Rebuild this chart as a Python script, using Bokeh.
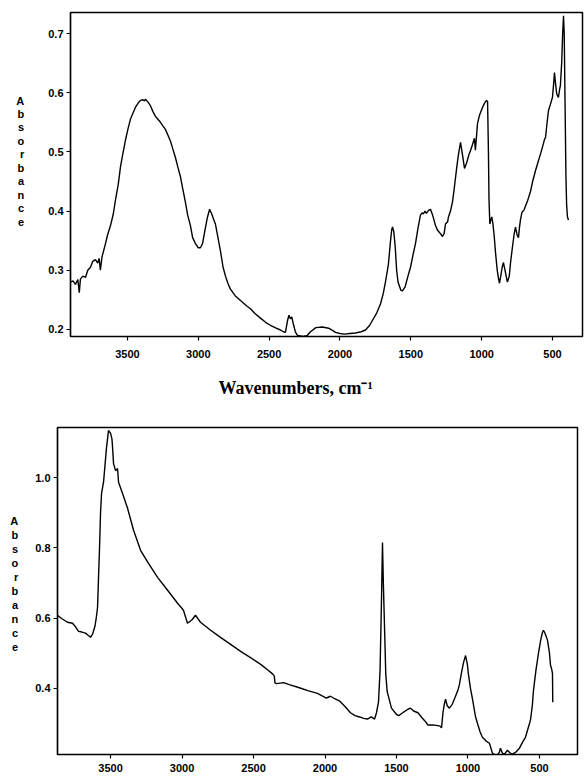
from bokeh.plotting import figure
from bokeh.models import Range1d, FixedTicker, Title, PrintfTickFormatter
from bokeh.embed import file_html
from bokeh.resources import INLINE

# ---------------- data: top spectrum (wavenumber, absorbance) ----------------
top_wn = [3902, 3885, 3867, 3850, 3840, 3832, 3815, 3796, 3780, 3761, 3745, 3726,
          3710, 3700, 3691, 3680, 3655, 3640, 3620, 3600, 3585, 3565, 3549, 3530,
          3514, 3495, 3479, 3460, 3444, 3420, 3408, 3390, 3380, 3373, 3355, 3338,
          3320, 3302, 3285, 3267, 3250, 3232, 3214, 3196, 3180, 3161, 3145, 3126,
          3110, 3091, 3075, 3055, 3040, 3020, 3000, 2985, 2970, 2955, 2935, 2920,
          2905, 2890, 2879, 2865, 2844, 2825, 2808, 2790, 2773, 2740, 2702, 2660,
          2632, 2600, 2561, 2525, 2491, 2450, 2420, 2400, 2385, 2370, 2360, 2350,
          2340, 2330, 2315, 2300, 2258, 2230, 2208, 2170, 2124, 2080, 2050, 2032,
          2000, 1968, 1930, 1891, 1850, 1820, 1790, 1771, 1740, 1714, 1695, 1679,
          1658, 1645, 1635, 1629, 1620, 1610, 1600, 1590, 1570, 1559, 1540, 1520,
          1502, 1485, 1467, 1450, 1432, 1420, 1411, 1400, 1390, 1375, 1361, 1350,
          1340, 1325, 1312, 1295, 1276, 1265, 1255, 1240, 1234, 1220, 1206, 1195,
          1185, 1175, 1164, 1149, 1135, 1121, 1105, 1090, 1079, 1065, 1051, 1044,
          1035, 1029, 1015, 994, 980, 966, 958, 952, 948, 942, 935, 928, 920, 912,
          902, 890, 880, 874, 865, 855, 846, 835, 825, 818, 805, 795, 782, 770,
          761, 750, 740, 733, 726, 715, 700, 691, 675, 655, 640, 620, 599, 580,
          564, 555, 549, 540, 528, 515, 500, 490, 486, 478, 470, 458, 450, 444,
          435, 428, 422, 417, 410, 405, 400, 394, 387]
top_abs = [0.280, 0.282, 0.276, 0.284, 0.262, 0.285, 0.290, 0.288, 0.300, 0.305, 0.315, 0.318,
           0.312, 0.320, 0.300, 0.322, 0.345, 0.360, 0.375, 0.395, 0.418, 0.445, 0.475, 0.500,
           0.520, 0.540, 0.555, 0.566, 0.575, 0.584, 0.587, 0.588, 0.586, 0.589, 0.584, 0.578,
           0.568, 0.560, 0.555, 0.550, 0.544, 0.538, 0.528, 0.518, 0.505, 0.490, 0.475, 0.458,
           0.438, 0.415, 0.393, 0.375, 0.355, 0.345, 0.338, 0.338, 0.345, 0.365, 0.390, 0.403,
           0.395, 0.385, 0.378, 0.360, 0.333, 0.305, 0.290, 0.277, 0.268, 0.257, 0.249, 0.240,
           0.235, 0.227, 0.219, 0.212, 0.207, 0.202, 0.199, 0.196, 0.195, 0.215, 0.224, 0.218,
           0.221, 0.210, 0.196, 0.190, 0.188, 0.190, 0.196, 0.203, 0.204, 0.202, 0.198, 0.195,
           0.193, 0.192, 0.193, 0.194, 0.196, 0.199, 0.207, 0.215, 0.228, 0.243, 0.260, 0.280,
           0.310, 0.345, 0.368, 0.373, 0.365, 0.340, 0.300, 0.280, 0.266, 0.265, 0.272, 0.290,
           0.305, 0.325, 0.345, 0.370, 0.393, 0.397, 0.395, 0.400, 0.396, 0.401, 0.403, 0.396,
           0.388, 0.375, 0.368, 0.363, 0.357, 0.362, 0.378, 0.382, 0.390, 0.400, 0.415, 0.435,
           0.455, 0.475, 0.495, 0.516, 0.495, 0.472, 0.482, 0.495, 0.502, 0.512, 0.523, 0.503,
           0.530, 0.548, 0.562, 0.575, 0.582, 0.587, 0.585, 0.500, 0.420, 0.378, 0.385, 0.390, 0.378, 0.360,
           0.330, 0.300, 0.285, 0.278, 0.290, 0.305, 0.313, 0.300, 0.288, 0.280, 0.290, 0.315, 0.340, 0.362,
           0.373, 0.360, 0.355, 0.372, 0.385, 0.398, 0.402, 0.408, 0.418, 0.433, 0.450, 0.468, 0.485, 0.500,
           0.514, 0.522, 0.524, 0.545, 0.570, 0.580, 0.592, 0.620, 0.634, 0.615, 0.598, 0.592, 0.605, 0.612,
           0.650, 0.700, 0.730, 0.700, 0.560, 0.460, 0.410, 0.390, 0.385]

# ---------------- data: bottom spectrum ----------------
bot_wn = [3871, 3840, 3801, 3766, 3745, 3724, 3700, 3675, 3655, 3640, 3625, 3610,
          3600, 3591, 3584, 3577, 3570, 3563, 3549, 3542, 3528, 3514, 3507, 3500,
          3490, 3486, 3479, 3465, 3451, 3444, 3416, 3381, 3339, 3290, 3241, 3171,
          3101, 3031, 2990, 2962, 2930, 2906, 2871, 2800, 2731, 2660, 2590, 2521,
          2450, 2400, 2365, 2355, 2350, 2340, 2290, 2250, 2185, 2120, 2053, 1990,
          1962, 1940, 1900, 1860, 1822, 1790, 1758, 1730, 1703, 1677, 1653, 1640,
          1626, 1615, 1605, 1598, 1592, 1585, 1575, 1565, 1535, 1500, 1482, 1450,
          1420, 1402, 1380, 1350, 1320, 1300, 1280, 1250, 1220, 1195, 1185, 1175,
          1165, 1157, 1145, 1130, 1110, 1090, 1070, 1060, 1045, 1030, 1017, 1005,
          997, 983, 969, 948, 934, 915, 899, 875, 850, 829, 808, 790, 780, 773,
          760, 745, 724, 705, 689, 665, 640, 620, 598, 580, 563, 550, 542, 525,
          507, 490, 480, 472, 460, 444, 430, 423, 415, 409, 407]
bot_abs = [0.608, 0.598, 0.588, 0.585, 0.575, 0.562, 0.560, 0.557, 0.550, 0.545, 0.555, 0.575,
           0.600, 0.630, 0.716, 0.800, 0.900, 0.955, 0.987, 1.020, 1.087, 1.135, 1.130, 1.127,
           1.110, 1.087, 1.040, 1.020, 1.026, 0.987, 0.955, 0.913, 0.850, 0.793, 0.760, 0.716,
           0.679, 0.642, 0.622, 0.585, 0.595, 0.608, 0.588, 0.565, 0.545, 0.525, 0.505, 0.487,
           0.468, 0.452, 0.440, 0.435, 0.415, 0.413, 0.416, 0.410, 0.402, 0.393, 0.385, 0.372,
           0.377, 0.372, 0.364, 0.348, 0.330, 0.322, 0.318, 0.314, 0.312, 0.318, 0.312, 0.330,
           0.360, 0.450, 0.650, 0.815, 0.700, 0.594, 0.440, 0.390, 0.343, 0.325, 0.322, 0.332,
           0.340, 0.343, 0.335, 0.330, 0.315, 0.306, 0.295, 0.295, 0.294, 0.292, 0.287, 0.330,
           0.355, 0.369, 0.350, 0.343, 0.354, 0.374, 0.395, 0.410, 0.445, 0.475, 0.493, 0.470,
           0.440, 0.400, 0.370, 0.320, 0.300, 0.275, 0.260, 0.250, 0.243, 0.215, 0.208, 0.212, 0.218, 0.229,
           0.215, 0.212, 0.223, 0.215, 0.212, 0.218, 0.229, 0.245, 0.260, 0.285, 0.309, 0.350, 0.393, 0.450,
           0.500, 0.540, 0.558, 0.565, 0.555, 0.537, 0.500, 0.466, 0.455, 0.442, 0.360]

x_ticks = [3500, 3000, 2500, 2000, 1500, 1000, 500]
top_y_ticks = [0.2, 0.3, 0.4, 0.5, 0.6, 0.7]
bot_y_ticks = [0.4, 0.6, 0.8, 1.0]
ylabel_text = "Absorbance"
xlabel_text = "Wavenumbers, cm\u207b\u00b9"

SANS = "Liberation Sans"
SERIF = "Liberation Serif"


def style(p, yticks):
    p.outline_line_color = "black"
    p.outline_line_width = 1.5
    p.grid.visible = False
    p.background_fill_color = "white"
    p.border_fill_color = "white"
    p.xaxis.ticker = FixedTicker(ticks=x_ticks)
    p.yaxis.ticker = FixedTicker(ticks=yticks)
    p.yaxis.formatter = PrintfTickFormatter(format="%.1f")
    for ax in (p.xaxis[0], p.yaxis[0]):
        ax.axis_line_color = "black"
        ax.axis_line_width = 1.2
        ax.major_tick_line_color = "black"
        ax.major_tick_line_width = 1.2
        ax.major_tick_in = 0
        ax.major_tick_out = 4
        ax.minor_tick_line_color = None
        ax.major_label_text_font = SANS
        ax.major_label_text_font_style = "bold"
        ax.major_label_text_font_size = "11px"
        ax.major_label_text_color = "black"
    ya = p.yaxis[0]
    ya.axis_label_orientation = "horizontal"
    ya.axis_label_text_font = SANS
    ya.axis_label_text_font_style = "bold"
    ya.axis_label_text_font_size = "11px"
    ya.axis_label_text_color = "black"


# ---------------- top figure ----------------
p1 = figure(width=584, height=405, output_backend="svg", toolbar_location=None,
            x_range=Range1d(3902, 288), y_range=Range1d(0.188, 0.7355),
            min_border_left=70, min_border_right=2, min_border_top=12, min_border_bottom=69)
style(p1, top_y_ticks)
p1.xaxis.major_label_standoff = 9
p1.xaxis.axis_label = " "
p1.xaxis.axis_label_text_font_size = "2px"
p1.xaxis.axis_label_standoff = 5
p1.yaxis.major_label_standoff = 3
p1.yaxis.axis_label = "\n".join(ylabel_text) + "\n \n "
p1.yaxis.axis_label_standoff = 21
p1.yaxis.axis_label_text_line_height = 1.12
p1.line(top_wn, top_abs, line_color="black", line_width=1.4)
p1.add_layout(Title(text=xlabel_text, align="left", offset=148,
                    text_font=SERIF, text_font_style="bold", text_font_size="18px",
                    text_color="black"), "below")

# ---------------- bottom figure ----------------
p2 = figure(width=584, height=371, output_backend="svg", toolbar_location=None,
            x_range=Range1d(3871, 234), y_range=Range1d(0.211, 1.143),
            min_border_left=57, min_border_right=7, min_border_top=22, min_border_bottom=22)
style(p2, bot_y_ticks)
p2.xaxis.major_label_standoff = 5
p2.yaxis.major_label_standoff = 3
p2.yaxis.axis_label = "\n".join(ylabel_text) + "\n "
p2.yaxis.axis_label_standoff = 14
p2.yaxis.axis_label_text_line_height = 1.17
p2.line(bot_wn, bot_abs, line_color="black", line_width=1.4)

open("out.html", "w").write(file_html([p1, p2], INLINE))
